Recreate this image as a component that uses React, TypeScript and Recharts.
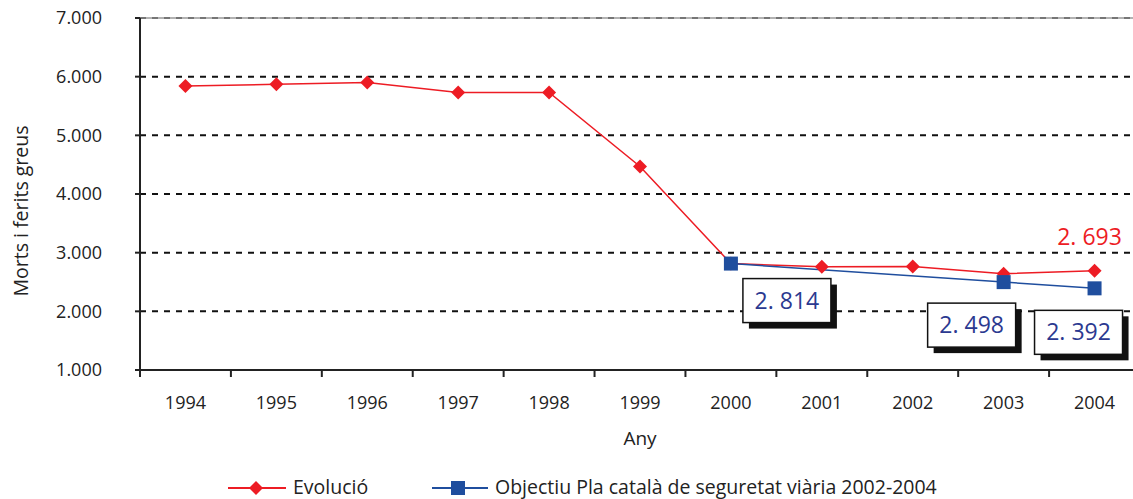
import React from 'react';
import {
  LineChart, Line, XAxis, YAxis, CartesianGrid, ReferenceLine, Legend,
} from 'recharts';

const years = ['1994', '1995', '1996', '1997', '1998', '1999', '2000', '2001', '2002', '2003', '2004'];
const evolucio = [5840, 5870, 5900, 5730, 5730, 4470, 2814, 2760, 2765, 2640, 2693];
const objectiu = [null, null, null, null, null, null, 2814, null, null, 2498, 2392];
const yTicks = [1000, 2000, 3000, 4000, 5000, 6000, 7000];

const RED = '#ed1c24';
const BLUE = '#1f4e9e';
const LABEL_BLUE = '#2b3990';
const FONT = '"Open Sans", sans-serif';

const data = years.map((year, i) => ({
  pos: i + 0.5,
  year,
  evol: evolucio[i],
  obj: objectiu[i],
}));

// x ticks: integer = boundary tick line, half = year label
const xTicks = years.flatMap((_, i) => [i, i + 0.5]).concat([years.length]);

// where each boxed label sits relative to its point
const boxPlacement: Record<number, { dx: number; dy: number }> = {
  6: { dx: 12, dy: 15 },
  9: { dx: -76, dy: 21 },
  10: { dx: -60, dy: 22 },
};

const fmt = (v: number) => `${Math.round(v / 1000)}.000`;
const fmtLabel = (v: number) => {
  const s = String(v);
  return `${s.slice(0, s.length - 3)}. ${s.slice(-3)}`;
};

const XTick = (props: any) => {
  const { x, y, payload } = props;
  const v = payload.value;
  if (Number.isInteger(v)) {
    return <line x1={x} x2={x} y1={y} y2={y + 7} stroke="#222" strokeWidth={2} />;
  }
  return (
    <text x={x} y={y + 39} textAnchor="middle" fill="#222" fontSize={18} fontFamily={FONT}>
      {years[Math.floor(v)]}
    </text>
  );
};

const Diamond = (props: any) => {
  const { cx, cy } = props;
  if (cx == null || cy == null) return null;
  const r = 7;
  return (
    <polygon
      points={`${cx},${cy - r} ${cx + r},${cy} ${cx},${cy + r} ${cx - r},${cy}`}
      fill={RED}
    />
  );
};

const Square = (props: any) => {
  const { cx, cy, value } = props;
  if (cx == null || cy == null || value == null) return null;
  return <rect x={cx - 7} y={cy - 7} width={14} height={14} fill={BLUE} />;
};

const BoxLabel = (props: any) => {
  const { x, y, value, index } = props;
  const place = boxPlacement[index];
  if (!place || value == null) return null;
  const bx = x + place.dx;
  const by = y + place.dy;
  const w = 88;
  const h = 44;
  return (
    <g>
      <rect x={bx + 6} y={by + 6} width={w} height={h} fill="#111" />
      <rect x={bx} y={by} width={w} height={h} fill="#fff" stroke="#111" strokeWidth={1.5} />
      <text x={bx + w / 2} y={by + h / 2 + 8} textAnchor="middle" fill={LABEL_BLUE} fontSize={23} fontFamily={FONT}>
        {fmtLabel(value)}
      </text>
    </g>
  );
};

const RedLabel = (props: any) => {
  const { x, y, value, index } = props;
  if (index !== years.length - 1) return null;
  return (
    <text x={x - 5} y={y - 26} textAnchor="middle" fill={RED} fontSize={23} fontFamily={FONT}>
      {fmtLabel(value)}
    </text>
  );
};

const YLabel = (props: any) => {
  const { viewBox } = props;
  const cx = 23;
  const cy = viewBox.y + viewBox.height / 2 + 17;
  return (
    <text x={cx} y={cy} transform={`rotate(-90 ${cx} ${cy})`} textAnchor="middle" dominantBaseline="middle"
      fill="#222" fontSize={19.5} fontFamily={FONT}>
      Morts i ferits greus
    </text>
  );
};

const LegendContent = () => (
  <div style={{ position: 'relative', height: 22, fontFamily: FONT, fontSize: 19.5, color: '#222', lineHeight: '22px' }}>
    <svg width={58} height={16} style={{ position: 'absolute', left: 228, top: 4 }}>
      <line x1={0} x2={58} y1={8} y2={8} stroke={RED} strokeWidth={2} />
      <polygon points="28,1 35,8 28,15 21,8" fill={RED} />
    </svg>
    <span style={{ position: 'absolute', left: 293, top: 0, whiteSpace: 'nowrap' }}>Evolució</span>
    <svg width={56} height={16} style={{ position: 'absolute', left: 432, top: 4 }}>
      <line x1={0} x2={56} y1={8} y2={8} stroke={BLUE} strokeWidth={2} />
      <rect x={19} y={1} width={14} height={14} fill={BLUE} />
    </svg>
    <span style={{ position: 'absolute', left: 495, top: 0, whiteSpace: 'nowrap' }}>
      Objectiu Pla català de seguretat viària 2002-2004
    </span>
  </div>
);

export default function App() {
  return (
    <div style={{ position: 'absolute', top: 0, left: 0, width: 1133, height: 499, overflow: 'hidden', background: '#fff' }}>
      <LineChart width={1160} height={499} data={data} margin={{ top: 18, right: 20, left: 0, bottom: 0 }}>
        <ReferenceLine y={7000} stroke="#999" strokeWidth={1.5} />
        <CartesianGrid vertical={false} stroke="#111" strokeWidth={2} strokeDasharray="6 6" />
        <XAxis
          dataKey="pos"
          type="number"
          domain={[0, years.length]}
          ticks={xTicks}
          interval={0}
          tick={<XTick />}
          tickLine={false}
          tickSize={0}
          tickMargin={0}
          axisLine={{ stroke: '#222', strokeWidth: 2 }}
          height={129}
          label={{ value: 'Any', position: 'insideTop', offset: 62, fill: '#222', fontSize: 19, fontFamily: FONT }}
        />
        <YAxis
          domain={[1000, 7000]}
          ticks={yTicks}
          interval={0}
          tickFormatter={fmt}
          width={140}
          tickSize={5}
          tickMargin={33}
          tick={{ fill: '#222', fontSize: 18, fontFamily: FONT }}
          tickLine={{ stroke: '#222', strokeWidth: 2 }}
          axisLine={{ stroke: '#222', strokeWidth: 2 }}
          label={<YLabel />}
        />
        <Line
          dataKey="evol"
          name="Evolució"
          stroke={RED}
          strokeWidth={1.5}
          dot={<Diamond />}
          activeDot={false}
          label={<RedLabel />}
          isAnimationActive={false}
        />
        <Line
          dataKey="obj"
          name="Objectiu Pla català de seguretat viària 2002-2004"
          stroke={BLUE}
          strokeWidth={1.5}
          connectNulls
          dot={<Square />}
          activeDot={false}
          label={<BoxLabel />}
          isAnimationActive={false}
        />
        <Legend
          layout="horizontal"
          verticalAlign="middle"
          content={<LegendContent />}
          wrapperStyle={{ top: 476, left: 0, width: 1133 }}
        />
      </LineChart>
    </div>
  );
}
